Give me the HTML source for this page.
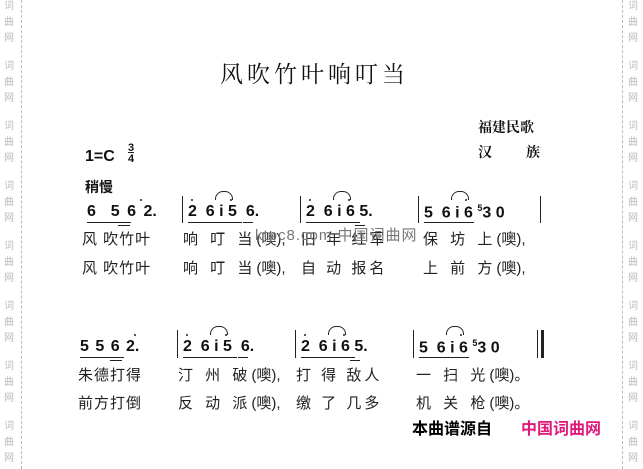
<!DOCTYPE html>
<html><head><meta charset="utf-8"><style>
body{margin:0;width:643px;height:469px;background:#fff;position:relative;overflow:hidden;font-family:"Liberation Sans","Noto Sans CJK SC",sans-serif;color:#111}
.a{position:absolute;white-space:nowrap;line-height:1}
.side{position:absolute;font-size:10px;color:#bbb;line-height:16px;width:12px;text-align:center}
.dl{position:absolute;top:0;height:469px;border-left:1px dashed #bbb}
.n{font-weight:bold;font-size:16px}
.ly{font-size:15px;font-family:"Liberation Sans","Noto Sans CJK SC",sans-serif;color:#222}
.ly i{font-style:normal;letter-spacing:0}
.u{position:absolute;height:1px;background:#222}
.bar{position:absolute;width:1px;background:#222}
.d{position:absolute;width:2px;height:2px;background:#222;border-radius:1px}
.arc{position:absolute;width:16px;height:8px;border:1px solid #222;border-bottom:none;border-radius:8px 8px 0 0}
</style></head><body>
<div class="dl" style="left:21px"></div>
<div class="dl" style="left:622px"></div>
<div id="sides"></div>
<script>
var s='';for(var i=0;i<8;i++){var y=-1+i*60;s+='<div class="side" style="left:3px;top:'+y+'px">词<br>曲<br>网</div><div class="side" style="left:627px;top:'+y+'px">词<br>曲<br>网</div>';}document.getElementById('sides').innerHTML=s;
</script>
<div class="a" style="left:220px;top:61px;font-size:23px;letter-spacing:4px;font-family:'Noto Serif CJK SC',serif">风吹竹叶响叮当</div>
<div class="a" style="left:478px;top:120px;font-size:14px;font-weight:bold;font-family:'Noto Serif CJK SC',serif">福建民歌</div>
<div class="a" style="left:478px;top:145px;font-size:14px;font-weight:bold;font-family:'Noto Serif CJK SC',serif">汉</div>
<div class="a" style="left:526px;top:145px;font-size:14px;font-weight:bold;font-family:'Noto Serif CJK SC',serif">族</div>
<div class="a n" style="left:85px;top:149px">1=C</div>
<div class="a" style="left:128px;top:143px;font-size:11px;font-weight:bold;text-align:center;line-height:11px">3<br><span style="border-top:1px solid #222">4</span></div>
<div class="a" style="left:85px;top:180px;font-size:14px;font-weight:bold">稍慢</div>

<div class="a n" style="left:87px;top:204px;word-spacing:3px">6&nbsp; 5 6 2.</div>
<div class="u" style="left:87px;top:222px;width:44px"></div><div class="u" style="left:118px;top:225px;width:12px"></div>
<div class="d" style="left:140px;top:199px"></div>
<div class="bar" style="left:182px;top:196px;height:27px"></div>
<div class="a n" style="left:188px;top:204px">2&nbsp; 6 i 5&nbsp; 6.</div>
<div class="u" style="left:188px;top:222px;width:54px"></div><div class="u" style="left:243px;top:222px;width:10px"></div>
<div class="d" style="left:191px;top:199px"></div><div class="d" style="left:230px;top:199px"></div>
<div class="arc" style="left:215px;top:191px"></div>
<div class="bar" style="left:300px;top:196px;height:27px"></div>
<div class="a n" style="left:306px;top:204px">2&nbsp; 6 i 6 5.</div>
<div class="u" style="left:306px;top:222px;width:54px"></div><div class="u" style="left:355px;top:225px;width:10px"></div>
<div class="d" style="left:309px;top:199px"></div><div class="d" style="left:348px;top:199px"></div>
<div class="arc" style="left:333px;top:191px"></div>
<div class="bar" style="left:418px;top:196px;height:27px"></div>
<div class="a n" style="left:424px;top:204px">5&nbsp; 6 i 6 <sup style="font-size:9px">5</sup>3 0</div>
<div class="u" style="left:424px;top:222px;width:50px"></div>
<div class="d" style="left:465px;top:199px"></div>
<div class="arc" style="left:451px;top:191px"></div>
<div class="bar" style="left:540px;top:196px;height:27px"></div>

<div class="a ly" style="left:82px;top:232px;letter-spacing:1px">风 吹竹叶</div>
<div class="a ly" style="left:183px;top:232px;letter-spacing:4px">响 叮 当<i>(噢),</i></div>
<div class="a ly" style="left:301px;top:232px;letter-spacing:3px">旧 年 红军</div>
<div class="a ly" style="left:423px;top:232px;letter-spacing:4px">保 坊 上<i>(噢),</i></div>
<div class="a" style="left:255px;top:228px;font-size:15px;color:#777;letter-spacing:1px">ktpc8.com 中国词曲网</div>
<div class="a ly" style="left:82px;top:261px;letter-spacing:1px">风 吹竹叶</div>
<div class="a ly" style="left:183px;top:261px;letter-spacing:4px">响 叮 当<i>(噢),</i></div>
<div class="a ly" style="left:301px;top:261px;letter-spacing:3px">自 动 报名</div>
<div class="a ly" style="left:423px;top:261px;letter-spacing:4px">上 前 方<i>(噢),</i></div>

<div class="a n" style="left:80px;top:339px;word-spacing:2px">5 5 6 2.</div>
<div class="u" style="left:80px;top:357px;width:44px"></div><div class="u" style="left:110px;top:360px;width:12px"></div>
<div class="d" style="left:134px;top:334px"></div>
<div class="bar" style="left:177px;top:330px;height:28px"></div>
<div class="a n" style="left:183px;top:339px">2&nbsp; 6 i 5&nbsp; 6.</div>
<div class="u" style="left:183px;top:357px;width:54px"></div><div class="u" style="left:238px;top:357px;width:10px"></div>
<div class="d" style="left:186px;top:334px"></div><div class="d" style="left:225px;top:334px"></div>
<div class="arc" style="left:210px;top:326px"></div>
<div class="bar" style="left:295px;top:330px;height:28px"></div>
<div class="a n" style="left:301px;top:339px">2&nbsp; 6 i 6 5.</div>
<div class="u" style="left:301px;top:357px;width:54px"></div><div class="u" style="left:350px;top:360px;width:10px"></div>
<div class="d" style="left:304px;top:334px"></div><div class="d" style="left:343px;top:334px"></div>
<div class="arc" style="left:328px;top:326px"></div>
<div class="bar" style="left:413px;top:330px;height:28px"></div>
<div class="a n" style="left:419px;top:339px">5&nbsp; 6 i 6 <sup style="font-size:9px">5</sup>3 0</div>
<div class="u" style="left:419px;top:357px;width:50px"></div>
<div class="d" style="left:460px;top:334px"></div>
<div class="arc" style="left:446px;top:326px"></div>
<div class="bar" style="left:537px;top:330px;height:28px"></div>
<div class="bar" style="left:541px;top:330px;height:28px;width:3px"></div>

<div class="a ly" style="left:78px;top:368px;letter-spacing:1px">朱德打得</div>
<div class="a ly" style="left:178px;top:368px;letter-spacing:4px">汀 州 破<i>(噢),</i></div>
<div class="a ly" style="left:296px;top:368px;letter-spacing:3px">打 得 敌人</div>
<div class="a ly" style="left:416px;top:368px;letter-spacing:4px">一 扫 光<i>(噢)。</i></div>
<div class="a ly" style="left:78px;top:396px;letter-spacing:1px">前方打倒</div>
<div class="a ly" style="left:178px;top:396px;letter-spacing:4px">反 动 派<i>(噢),</i></div>
<div class="a ly" style="left:296px;top:396px;letter-spacing:3px">缴 了 几多</div>
<div class="a ly" style="left:416px;top:396px;letter-spacing:4px">机 关 枪<i>(噢)。</i></div>

<div class="a" style="left:412px;top:422px;font-size:16px;font-weight:bold;color:#000">本曲谱源自</div>
<div class="a" style="left:521px;top:422px;font-size:16px;font-weight:bold;color:#e0187a">中国词曲网</div>
</body></html>
